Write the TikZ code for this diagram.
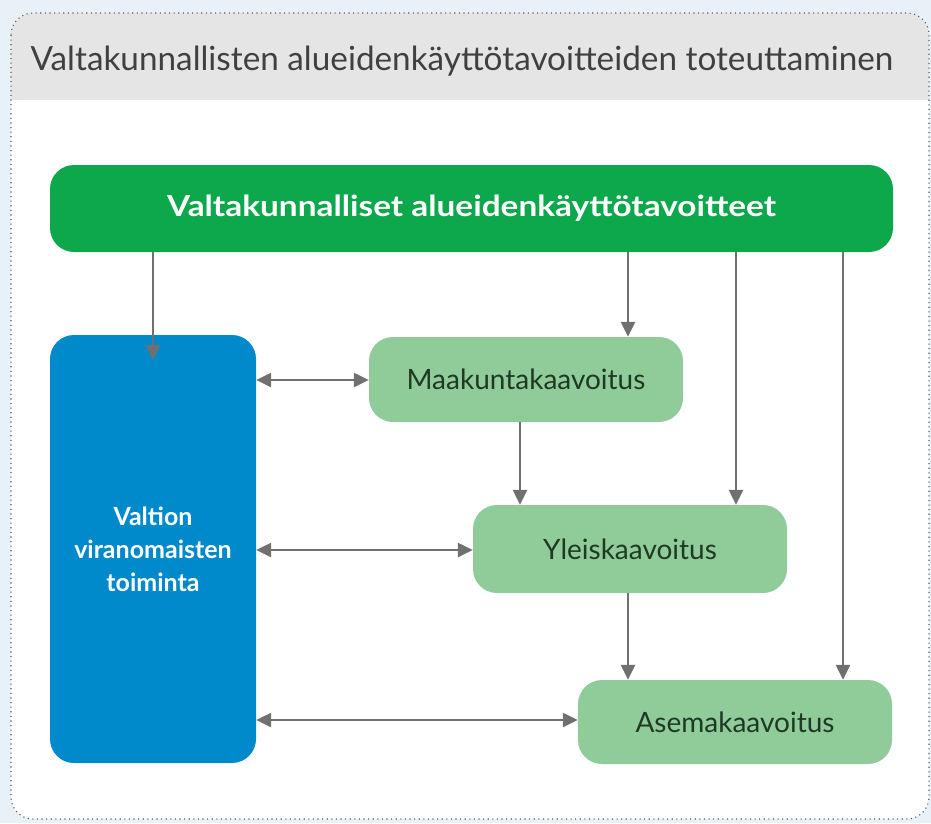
\documentclass[tikz,border=0pt]{standalone}
\usepackage{fontspec}
\setmainfont{Lato}
\newfontfamily\widefont[FakeStretch=1.15]{Lato}
\usetikzlibrary{arrows.meta}
\definecolor{bgblue}{HTML}{E8F0F8}
\definecolor{hdrgray}{HTML}{E5E5E5}
\definecolor{topgreen}{HTML}{0DA84C}
\definecolor{vblue}{HTML}{0089CB}
\definecolor{lgreen}{HTML}{8FCC9A}
\definecolor{dgtext}{HTML}{1F3A22}
\definecolor{arrgray}{HTML}{707070}
\tikzset{
  topbox/.style={fill=topgreen, rounded corners=24pt, inner sep=0pt, text=white, font=\widefont\bfseries\fontsize{29}{32}\selectfont},
  bluebox/.style={fill=vblue, rounded corners=24pt, inner sep=0pt, text=white, align=center, font=\bfseries\fontsize{25}{33}\selectfont},
  planbox/.style={fill=lgreen, rounded corners=24pt, inner sep=0pt, text=dgtext, font=\fontsize{28}{30}\selectfont},
  conn/.style={draw=arrgray, line width=2.4pt, -{Triangle[length=15pt,width=14pt]}},
  biconn/.style={draw=arrgray, line width=2.4pt, {Triangle[length=15pt,width=14pt]}-{Triangle[length=15pt,width=14pt]}},
}
\begin{document}
\begin{tikzpicture}[x=1pt,y=-1pt]
\useasboundingbox (0,0) rectangle (931,823);
\fill[bgblue] (0,0) rectangle (931,823);
% panel
\fill[white, rounded corners=22pt] (11,13) rectangle (929,819);
\begin{scope}
  \clip[rounded corners=22pt] (11,13) rectangle (929,819);
  \fill[hdrgray] (11,13) rectangle (929,100);
\end{scope}
\draw[gray!70!black, line width=1.1pt, dash pattern=on 1.1pt off 3.5pt, rounded corners=22pt] (11,13) rectangle (929,819);
\node[anchor=west, text=black!75, font=\fontsize{33.3}{36}\selectfont] (title) at (27,61) {Valtakunnallisten alueidenkäyttötavoitteiden toteuttaminen};
% boxes
\node[topbox, minimum width=843pt, minimum height=87pt] (vat) at (471.5,208.5) {Valtakunnalliset alueidenkäyttötavoitteet};
\node[bluebox, minimum width=206pt, minimum height=428pt] (vv) at (153,549) {Valtion\\viranomaisten\\toiminta};
\node[planbox, minimum width=314pt, minimum height=85pt] (mk) at (526,379.5) {Maakuntakaavoitus};
\node[planbox, minimum width=314pt, minimum height=88pt] (yk) at (630,549) {Yleiskaavoitus};
\node[planbox, minimum width=314pt, minimum height=84pt] (ak) at (735,722) {Asemakaavoitus};
% connectors
\coordinate (vvin) at (153,360);
\draw[conn] (vat.south -| vvin) -- (vvin);
\draw[conn] (vat.south -| 628,0) -- (mk.north -| 628,0);
\draw[conn] (vat.south -| 736,0) -- (yk.north -| 736,0);
\draw[conn] (vat.south -| 843,0) -- (ak.north -| 843,0);
\draw[conn] (mk.south -| 520,0) -- (yk.north -| 520,0);
\draw[conn] (yk.south -| 628,0) -- (ak.north -| 628,0);
\draw[biconn] (vv.east |- 0,380) -- (mk.west |- 0,380);
\draw[biconn] (vv.east |- 0,550) -- (yk.west |- 0,550);
\draw[biconn] (vv.east |- 0,720) -- (ak.west |- 0,720);
\end{tikzpicture}
\end{document}
